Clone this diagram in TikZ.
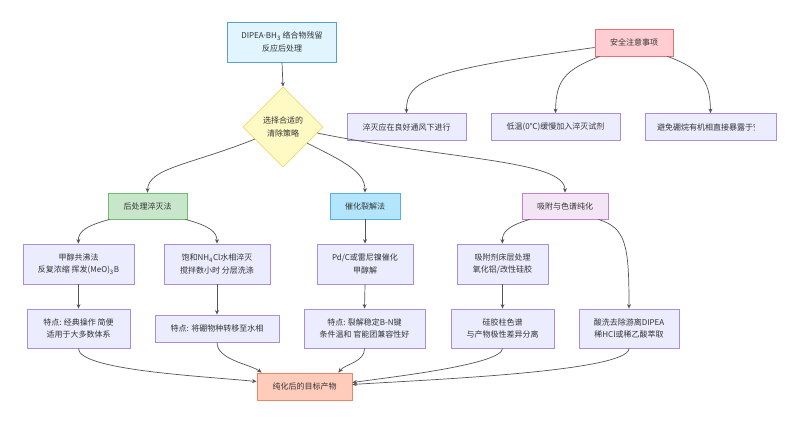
\documentclass[tikz,border=0pt]{standalone}
\usepackage{fontspec}
\setmainfont{Noto Sans CJK SC}
\newfontfamily\latfont{Noto Sans}
\usetikzlibrary{shapes.geometric,arrows.meta,calc}
\definecolor{txt}{HTML}{333333}
\definecolor{edgec}{HTML}{555555}
\definecolor{boxfill}{HTML}{ECECFF}
\definecolor{boxline}{HTML}{A98EE0}
\definecolor{topfill}{HTML}{E1F5FE}
\definecolor{topline}{HTML}{5A9FD4}
\definecolor{grnfill}{HTML}{C8E6C9}
\definecolor{grnline}{HTML}{6FBF73}
\definecolor{catfill}{HTML}{B3E5FC}
\definecolor{catline}{HTML}{5AAEE0}
\definecolor{adsfill}{HTML}{F3E5F5}
\definecolor{adsline}{HTML}{C47FD0}
\definecolor{safefill}{HTML}{FFCDD2}
\definecolor{safeline}{HTML}{E57373}
\definecolor{finfill}{HTML}{FFCCBC}
\definecolor{finline}{HTML}{E8866A}
\definecolor{diafill}{HTML}{FFF9C4}
\definecolor{dialine}{HTML}{F5D76E}
\begin{document}
\begin{tikzpicture}[x=1pt,y=-1pt,
  box/.style={draw=boxline, fill=boxfill, line width=0.8pt, align=center, inner sep=0pt,
    font=\fontsize{8}{12.5}\selectfont, text=txt},
  edge/.style={draw=edgec, line width=0.7pt, -{Stealth[length=4.5pt,width=4pt]}}]
\useasboundingbox[fill=white] (0,0) rectangle (800,424);

% nodes
\node[box, draw=topline, fill=topfill, minimum width=109, minimum height=40] (top) at (282,42)
  {DIPEA{\latfont ·}BH\textsubscript{3} 络合物残留\\反应后处理};
\node[box, diamond, aspect=1, draw=dialine, fill=diafill, minimum width=80, minimum height=80] (dia) at (283,127)
  {选择合适的\\清除策略};
\node[box, draw=safeline, fill=safefill, minimum width=78, minimum height=27] (safe) at (634,42.5) {安全注意事项};
\node[box, minimum width=119, minimum height=27] (q1) at (406.5,127) {淬灭应在良好通风下进行};
\node[box, minimum width=129, minimum height=27] (q2) at (555.5,127) {低温(0℃)缓慢加入淬灭试剂};
\node[box, minimum width=131, minimum height=27] (q3) at (710.5,127) {};
\begin{scope}
  \clip (q3.north west) rectangle ($(q3.south west)+(110,0)$);
  \node[box, draw=none, fill=none, anchor=west] (q3t) at ($(q3.west)+(12,0)$) {避免硼烷有机相直接暴露于空气};
\end{scope}

\node[box, draw=grnline, fill=grnfill, minimum width=79, minimum height=26] (grn) at (147.5,206) {后处理淬灭法};
\node[box, draw=catline, fill=catfill, minimum width=70, minimum height=26] (cat) at (365,206) {催化裂解法};
\node[box, draw=adsline, fill=adsfill, minimum width=86, minimum height=26] (ads) at (565,206) {吸附与色谱纯化};

\node[box, minimum width=111, minimum height=40] (m1) at (78.5,264) {甲醇共沸法\\反复浓缩 挥发(MeO)\textsubscript{3}B};
\node[box, minimum width=106, minimum height=40] (m2) at (217,264) {饱和NH\textsubscript{4}Cl水相淬灭\\搅拌数小时 分层洗涤};
\node[box, minimum width=96, minimum height=40] (pd) at (365,264) {Pd/C或雷尼镍催化\\甲醇解};
\node[box, minimum width=91, minimum height=40] (ad1) at (502.5,264) {吸附剂床层处理\\氧化铝/改性硅胶};

\node[box, minimum width=103, minimum height=39] (t1) at (78.5,328.5) {特点: 经典操作 简便\\适用于大多数体系};
\node[box, minimum width=124, minimum height=27] (t2) at (217,328.5) {特点: 将硼物种转移至水相};
\node[box, minimum width=121, minimum height=39] (t3) at (364.5,328.5) {特点: 裂解稳定B-N键\\条件温和 官能团兼容性好};
\node[box, minimum width=103, minimum height=39] (t4) at (502.5,328.5) {硅胶柱色谱\\与产物极性差异分离};
\node[box, minimum width=100, minimum height=39] (t5) at (629,328.5) {酸洗去除游离DIPEA\\稀HCl或稀乙酸萃取};

\node[box, draw=finline, fill=finfill, minimum width=95, minimum height=27] (fin) at (304.5,386.5) {纯化后的目标产物};

% edges
\draw[edge] (top.south) -- (dia.north);
\draw[edge] ($(dia.west)!0.3!(dia.south)$) .. controls (190,165) and (148,168) .. (grn.north);
\draw[edge] ($(dia.south)!0.6!(dia.east)$) .. controls (345,162) and (365,172) .. (cat.north);
\draw[edge] ($(dia.east)!0.15!(dia.south)$) .. controls (450,160) and (565,160) .. (ads.north);

\draw[edge] ($(safe.west)+(0,5)$) .. controls (430,70) and (406,80) .. (q1.north);
\draw[edge] ($(safe.south west)+(5,0)$) .. controls (565,70) and (556,80) .. (q2.north);
\draw[edge] ($(safe.south east)+(-6,0)$) .. controls (705,70) and (710,85) .. (q3.north);

\draw[edge] ($(grn.south west)+(2,0)$) .. controls (85,226) and (78,232) .. (m1.north);
\draw[edge] ($(grn.south east)+(-2,0)$) .. controls (210,226) and (217,232) .. (m2.north);
\draw[edge] (m1.south) -- (t1.north);
\draw[edge] (m2.south) -- (t2.north);
\draw[edge] (cat.south) -- (pd.north);
\draw[edge] (pd.south) -- (t3.north);
\draw[edge] ($(ads.south west)+(8,0)$) .. controls (508,226) and (502,232) .. (ad1.north);
\draw[edge] ($(ads.south east)+(-10,0)$) .. controls (626,228) and (629,245) .. (t5.north);
\draw[edge] (ad1.south) -- (t4.north);

\draw[edge] (t1.south) .. controls (78,370) and (200,376) .. ($(fin.west)+(0,-5)$);
\draw[edge] (t2.south) .. controls (217,360) and (250,364) .. ($(fin.north west)+(5,0)$);
\draw[edge] (t3.south) .. controls (365,362) and (345,364) .. ($(fin.north east)+(-14,0)$);
\draw[edge] (t4.south) .. controls (502,364) and (400,376) .. ($(fin.east)+(0,-4)$);
\draw[edge] (t5.south) .. controls (629,372) and (420,380) .. ($(fin.east)+(0,-2)$);
\end{tikzpicture}
\end{document}
